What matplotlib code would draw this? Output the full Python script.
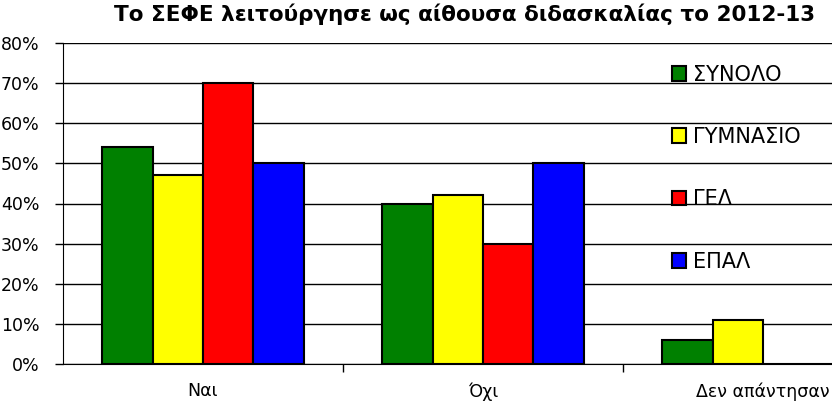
import numpy as np
import matplotlib.pyplot as plt
from matplotlib.ticker import PercentFormatter

categories = ["Ναι", "Όχι", "Δεν απάντησαν"]
series_names = ["ΣΥΝΟΛΟ", "ΓΥΜΝΑΣΙΟ", "ΓΕΛ", "ΕΠΑΛ"]
synolo = [54, 40, 6]
gymnasio = [47, 42, 11]
gel = [70, 30, 0]
epal = [50, 50, 0]
colors = ["#008000", "#FFFF00", "#FF0000", "#0000FF"]

plt.rcParams['font.family'] = ['DejaVu Sans']

fig = plt.figure(figsize=(8.32, 4.03), dpi=100)
# the plot area runs past the right edge of the picture, as in the original
ax = fig.add_axes([63 / 832, 1 - 364 / 403, 840 / 832, 321 / 403])

x = np.arange(len(categories))
w = 0.18
for i, (vals, name, c) in enumerate(zip([synolo, gymnasio, gel, epal], series_names, colors)):
    ax.bar(x + (i - 1.5) * w, vals, w, color=c, edgecolor="black", linewidth=1.5,
           label=name, zorder=3)

ax.set_xlim(-0.5, 2.5)
ax.set_ylim(0, 80)
ax.set_yticks(range(0, 81, 10))
ax.yaxis.set_major_formatter(PercentFormatter(decimals=0))
ax.set_xticks(x)
ax.set_xticklabels(categories)
ax.set_xticks([0.5, 1.5], minor=True)
ax.tick_params(axis="x", which="major", length=0, pad=13, labelsize=12.5)
ax.tick_params(axis="x", which="minor", length=6, width=1)
ax.tick_params(axis="y", length=6, width=1, labelsize=12.5, pad=11)
ax.yaxis.grid(True, color="black", linewidth=1, zorder=0)
for s in ["top", "right"]:
    ax.spines[s].set_visible(False)

ax.legend(loc="upper left", bbox_to_anchor=((653 - 63) / 840, 1 - 3 / 321),
          frameon=False, fontsize=15, handlelength=0.7, handleheight=0.7,
          handletextpad=0.3, labelspacing=2.03)

fig.text(0.558, 1 - 14 / 403, "Το ΣΕΦΕ λειτούργησε ως αίθουσα διδασκαλίας το 2012-13",
         ha="center", va="center", fontsize=15.5, fontweight="bold")

fig.savefig("out.png", dpi=100)
